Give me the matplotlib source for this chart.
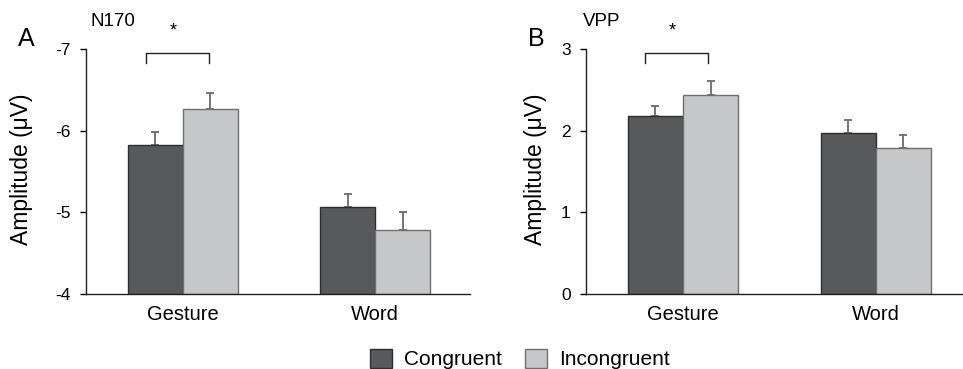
import matplotlib
matplotlib.use("Agg")
import matplotlib.pyplot as plt
import numpy as np
from matplotlib.patches import Patch

plt.rcParams['font.family'] = ['Liberation Sans', 'DejaVu Sans']

categories = ["Gesture", "Word"]
conditions = ["Congruent", "Incongruent"]

n170_congruent = [-5.83, -5.07]
n170_incongruent = [-6.27, -4.78]
n170_err_congruent = [0.15, 0.16]
n170_err_incongruent = [0.20, 0.22]

vpp_congruent = [2.18, 1.97]
vpp_incongruent = [2.44, 1.79]
vpp_err_congruent = [0.12, 0.16]
vpp_err_incongruent = [0.17, 0.16]

dark = "#58595b"
light = "#c6c7c8"
dark_edge = "#2e2e2e"
light_edge = "#707070"
err_color = "#6a6a6a"

fig = plt.figure(figsize=(9.63, 3.69), dpi=100)
axA = fig.add_axes([86/963, 1-294/369, 384/963, (294-49.3)/369])
axB = fig.add_axes([586/963, 1-294/369, 377/963, (294-49.3)/369])

w = 0.286
x = np.arange(len(categories))

def draw(ax, cong, inc, econg, einc, base, ylim, ticks, sign, xmax, labx):
    ax.bar(x - w/2, np.array(cong) - base, w, bottom=base, color=dark, edgecolor=dark_edge, linewidth=1.0, zorder=2)
    ax.bar(x + w/2, np.array(inc) - base, w, bottom=base, color=light, edgecolor=light_edge, linewidth=1.0, zorder=2)
    for xs, vals, errs in [(x - w/2, cong, econg), (x + w/2, inc, einc)]:
        ye = [np.zeros(len(errs)), errs] if sign > 0 else [errs, np.zeros(len(errs))]
        ax.errorbar(xs, vals, yerr=ye, fmt='none', ecolor=err_color, elinewidth=1.3, capsize=3, capthick=1.3, zorder=1)
    ax.set_ylim(*ylim)
    ax.set_yticks(ticks)
    ax.set_xlim(-0.503, xmax)
    ax.set_xticks(x)
    ax.set_xticklabels(categories, fontsize=14.5)
    ax.tick_params(axis='x', length=0, pad=8)
    ax.tick_params(axis='y', length=4, width=1, labelsize=12.5, pad=7, direction='out')
    for s in ['top', 'right']:
        ax.spines[s].set_visible(False)
    for s in ['left', 'bottom']:
        ax.spines[s].set_linewidth(1.0)
        ax.spines[s].set_color('#222222')
    ax.set_ylabel("Amplitude (\u03bcV)", fontsize=16.5, va='center')
    ax.yaxis.set_label_coords(labx, 0.51)

draw(axA, n170_congruent, n170_incongruent, n170_err_congruent, n170_err_incongruent,
     -4, (-4, -7), [-7, -6, -5, -4], -1, 1.494, -0.167)
axA.set_yticklabels(["-7", "-6", "-5", "-4"])
draw(axB, vpp_congruent, vpp_incongruent, vpp_err_congruent, vpp_err_incongruent,
     0, (0, 3), [0, 1, 2, 3], 1, 1.452, -0.135)

# significance brackets
axA.plot([-0.19, -0.19, 0.137, 0.137], [-6.834, -6.957, -6.957, -6.834], color='#222222', lw=1.0, clip_on=False)
axA.text(-0.05, -7.22, "*", ha='center', va='center', fontsize=13)
axB.plot([-0.199, -0.199, 0.13, 0.13], [2.834, 2.957, 2.957, 2.834], color='#222222', lw=1.0, clip_on=False)
axB.text(-0.054, 3.22, "*", ha='center', va='center', fontsize=13)

# panel labels and titles
fig.text(18/963, 1-39/369, "A", fontsize=18, ha='left', va='center')
fig.text(528/963, 1-39/369, "B", fontsize=18, ha='left', va='center')
fig.text(90/963, 1-21.5/369, "N170", fontsize=13.5, ha='left', va='center')
fig.text(583/963, 1-21.5/369, "VPP", fontsize=13.5, ha='left', va='center')

handles = [Patch(facecolor=dark, edgecolor=dark_edge, label=conditions[0]),
           Patch(facecolor=light, edgecolor=light_edge, label=conditions[1])]
fig.legend(handles=handles, loc='center', bbox_to_anchor=(520/963, 1-359/369), ncol=2,
           frameon=False, fontsize=15, handlelength=1.05, handleheight=1.05,
           handletextpad=0.6, columnspacing=1.1, borderpad=0)

fig.savefig("out.png", dpi=100)
